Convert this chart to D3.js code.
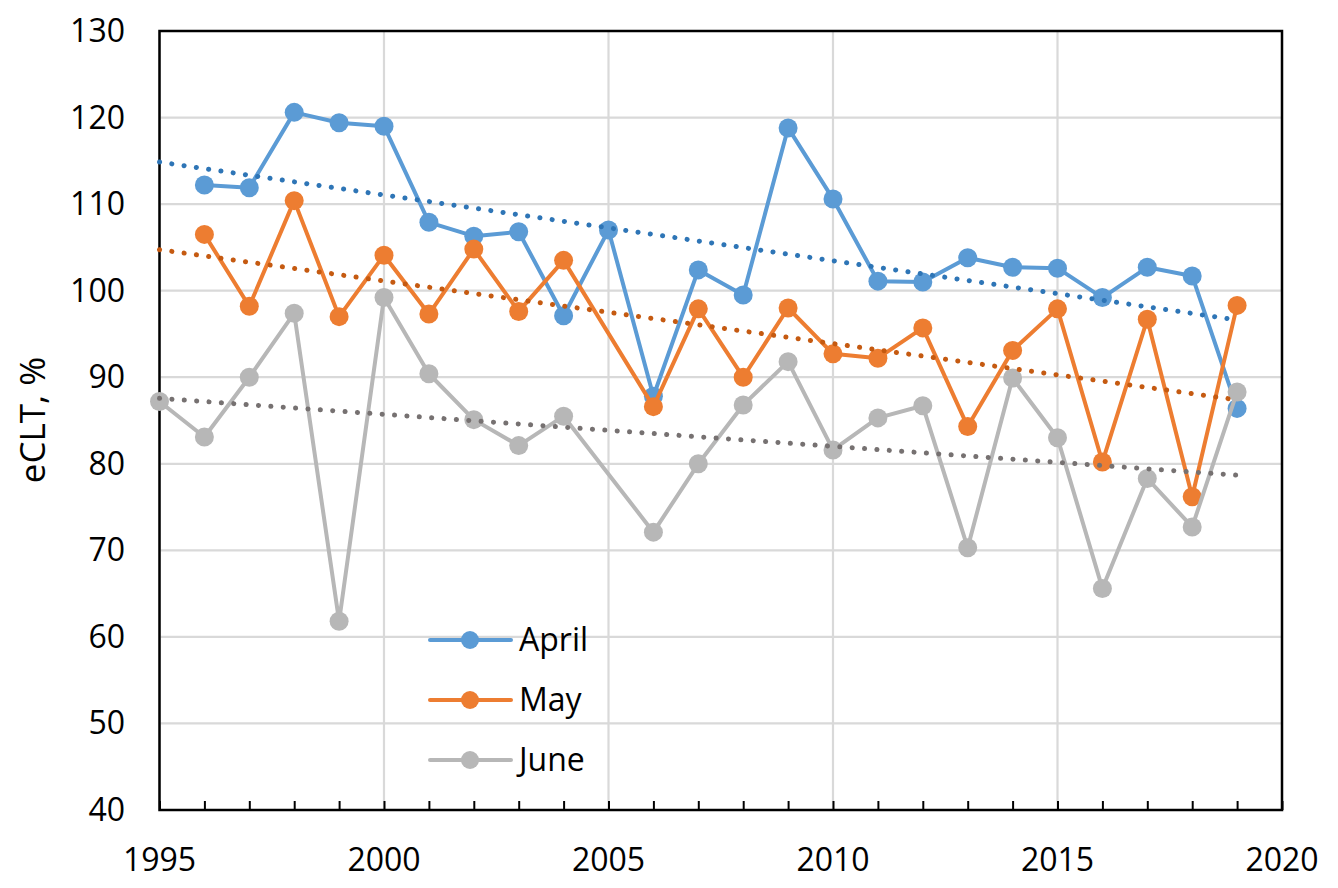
<!DOCTYPE html>
<html>
<head>
<meta charset="utf-8">
<script src="https://cdn.jsdelivr.net/npm/d3@7"></script>
<style>
  body { margin: 0; background: #fff; }
  text { font-family: "Open Sans", sans-serif; fill: #000; }
</style>
</head>
<body>
<div id="chart"></div>
<script>
// data
var years = [1995, 1996, 1997, 1998, 1999, 2000, 2001, 2002, 2003, 2004, 2005, 2006,
             2007, 2008, 2009, 2010, 2011, 2012, 2013, 2014, 2015, 2016, 2017, 2018, 2019];
var april = [null, 112.2, 111.9, 120.6, 119.4, 119.0, 107.9, 106.3, 106.8, 97.1, 107.0, 87.8,
             102.4, 99.5, 118.8, 110.6, 101.1, 101.0, 103.8, 102.7, 102.6, 99.2, 102.7, 101.7, 86.4];
var may   = [null, 106.5, 98.2, 110.4, 97.0, 104.1, 97.3, 104.8, 97.6, 103.5, null, 86.6,
             97.9, 90.0, 98.0, 92.7, 92.2, 95.7, 84.3, 93.1, 97.9, 80.2, 96.7, 76.2, 98.3];
var june  = [87.2, 83.1, 90.0, 97.4, 61.8, 99.2, 90.4, 85.1, 82.1, 85.5, null, 72.1,
             80.0, 86.8, 91.8, 81.6, 85.3, 86.7, 70.3, 89.9, 83.0, 65.6, 78.3, 72.7, 88.3];
var seriesNames = ["April", "May", "June"];
var lineColors = ["#5B9BD5", "#ED7D31", "#B7B7B7"];
var trendColors = ["#2E75B6", "#C55A11", "#767171"];
var yTicks = [40, 50, 60, 70, 80, 90, 100, 110, 120, 130];
var xTicks = [1995, 2000, 2005, 2010, 2015, 2020];

var W = 1338, H = 888;
var svg = d3.select("#chart").append("svg")
    .attr("width", W).attr("height", H);

var x = d3.scaleLinear().domain([1995, 2020]).range([159.5, 1282]);
var y = d3.scaleLinear().domain([40, 130]).range([810, 31]);

// gridlines
svg.append("g").selectAll("line").data(yTicks).enter().append("line")
    .attr("x1", x(1995)).attr("x2", x(2020))
    .attr("y1", function(d) { return y(d); }).attr("y2", function(d) { return y(d); })
    .attr("stroke", "#d9d9d9").attr("stroke-width", 2.2);
svg.append("g").selectAll("line").data(xTicks).enter().append("line")
    .attr("x1", function(d) { return x(d); }).attr("x2", function(d) { return x(d); })
    .attr("y1", y(40)).attr("y2", y(130))
    .attr("stroke", "#d9d9d9").attr("stroke-width", 2.2);

// frame
svg.append("rect")
    .attr("x", x(1995)).attr("y", y(130))
    .attr("width", x(2020) - x(1995)).attr("height", y(40) - y(130))
    .attr("fill", "none").attr("stroke", "#000").attr("stroke-width", 2.5);

// x axis with yearly ticks pointing up
var xAxis = d3.axisBottom(x).tickValues(d3.range(1995, 2021)).tickSize(-9).tickFormat("");
var gx = svg.append("g").attr("transform", "translate(0," + y(40) + ")").call(xAxis);
gx.select(".domain").remove();
gx.selectAll(".tick line").attr("stroke", "#000").attr("stroke-width", 2);

svg.append("g").selectAll("text").data(xTicks).enter().append("text")
    .attr("x", function(d) { return x(d); }).attr("y", 871)
    .attr("text-anchor", "middle").attr("font-size", 32)
    .text(function(d) { return d; });

svg.append("g").selectAll("text").data(yTicks).enter().append("text")
    .attr("x", 125).attr("y", function(d) { return y(d) + 11; })
    .attr("text-anchor", "end").attr("font-size", 32)
    .text(function(d) { return d; });

svg.append("text")
    .attr("transform", "translate(45,420) rotate(-90)")
    .attr("text-anchor", "middle").attr("font-size", 35)
    .text("eCLT, %");

// series
var allSeries = [april, may, june];
var line = d3.line()
    .defined(function(d) { return d.v != null; })
    .x(function(d) { return x(d.yr); })
    .y(function(d) { return y(d.v); });

allSeries.forEach(function(vals, i) {
    var pts = years.map(function(yr, k) { return { yr: yr, v: vals[k] }; });
    var defined = pts.filter(function(d) { return d.v != null; });
    var g = svg.append("g");
    g.append("path").datum(defined).attr("d", line)
        .attr("fill", "none").attr("stroke", lineColors[i])
        .attr("stroke-width", 4).attr("stroke-linejoin", "round");
    g.selectAll("circle").data(defined).enter().append("circle")
        .attr("cx", function(d) { return x(d.yr); })
        .attr("cy", function(d) { return y(d.v); })
        .attr("r", 9.5).attr("fill", lineColors[i]);
});

// linear trendlines, drawn over 1995-2019
allSeries.forEach(function(vals, i) {
    var pts = [];
    years.forEach(function(yr, k) { if (vals[k] != null) pts.push([yr, vals[k]]); });
    var mx = d3.mean(pts, function(p) { return p[0]; });
    var my = d3.mean(pts, function(p) { return p[1]; });
    var sxy = d3.sum(pts, function(p) { return (p[0] - mx) * (p[1] - my); });
    var sxx = d3.sum(pts, function(p) { return (p[0] - mx) * (p[0] - mx); });
    var b = sxy / sxx, a = my - b * mx;
    svg.append("line")
        .attr("x1", x(1995)).attr("y1", y(a + b * 1995))
        .attr("x2", x(2019)).attr("y2", y(a + b * 2019))
        .attr("stroke", trendColors[i]).attr("stroke-width", 5)
        .attr("stroke-linecap", "round").attr("stroke-dasharray", "0.1 12.3");
});

// legend
var legend = svg.append("g").selectAll("g").data(seriesNames).enter().append("g")
    .attr("transform", function(d, i) { return "translate(0," + (640 + i * 60) + ")"; });
legend.append("line").attr("x1", 430).attr("x2", 511)
    .attr("stroke", function(d, i) { return lineColors[i]; })
    .attr("stroke-width", 4).attr("stroke-linecap", "round");
legend.append("circle").attr("cx", 470).attr("r", 9)
    .attr("fill", function(d, i) { return lineColors[i]; });
legend.append("text").attr("x", 519).attr("y", 11).attr("font-size", 32)
    .text(function(d) { return d; });
</script>
</body>
</html>
